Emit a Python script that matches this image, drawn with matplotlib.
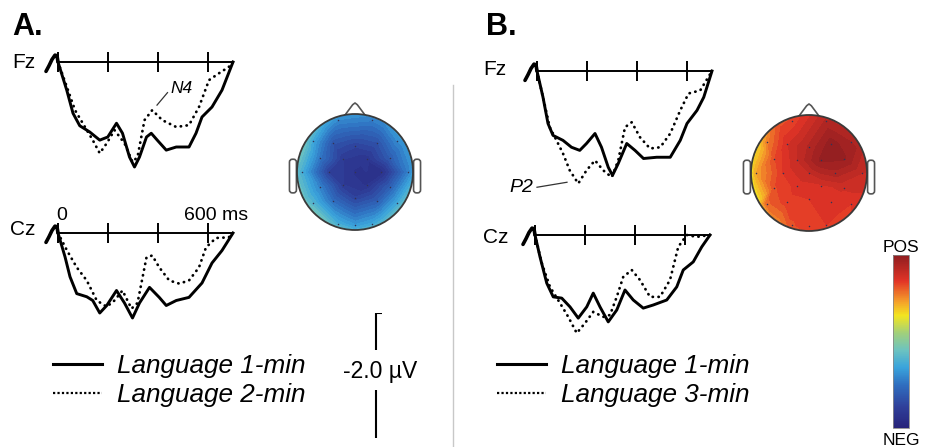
import numpy as np
import matplotlib
matplotlib.use("Agg")
import matplotlib.pyplot as plt
from matplotlib.colors import LinearSegmentedColormap
from matplotlib.patches import Circle, FancyBboxPatch
from matplotlib.lines import Line2D
from matplotlib.colorbar import ColorbarBase

plt.rcParams['font.family'] = ['Liberation Sans', 'DejaVu Sans']

W, H = 927, 447
PX_MS = 0.25      # pixels per ms
PX_UV = 62.5      # pixels per microvolt

EPOCH_END = 700
TICKS_MS = [0, 200, 400, 600]
# short pre-stimulus stub drawn at time zero
PRE_T = [-48, -36, -24, -12, -4, 0]
PRE_V = [0.15, 0.06, -0.04, -0.11, -0.1, 0]

# ERP waveforms (ms, uV; positive values hang below the baseline)
A_FZ_T1 = [0, 35, 60, 87, 127, 167, 199, 234, 258, 286, 306, 326, 354, 373, 397, 433, 473, 524, 552, 576, 616, 656, 700]
A_FZ_V1 = [0, 0.45, 0.82, 1.02, 1.12, 1.25, 1.20, 0.98, 1.14, 1.52, 1.68, 1.52, 1.20, 1.14, 1.25, 1.41, 1.36, 1.36, 1.14, 0.88, 0.72, 0.45, 0]
A_FZ_T2 = [0, 40, 68, 99, 139, 167, 195, 226, 266, 298, 318, 346, 377, 417, 473, 524, 564, 604, 644, 683, 700]
A_FZ_V2 = [0, 0.45, 0.77, 0.98, 1.25, 1.46, 1.30, 1.09, 1.30, 1.60, 1.52, 0.93, 0.77, 0.93, 1.04, 1.01, 0.72, 0.29, 0.18, 0.08, 0]

A_CZ_T1 = [0, 28, 48, 75, 115, 139, 167, 195, 234, 266, 298, 326, 366, 405, 433, 473, 524, 576, 616, 656, 700]
A_CZ_V1 = [0, 0.38, 0.70, 0.97, 1.02, 1.08, 1.28, 1.16, 0.92, 1.12, 1.36, 1.12, 0.87, 1.03, 1.16, 1.08, 1.03, 0.80, 0.48, 0.28, 0]
A_CZ_T2 = [0, 36, 75, 115, 155, 195, 226, 258, 294, 318, 354, 377, 405, 445, 485, 524, 564, 592, 632, 683, 700]
A_CZ_V2 = [0, 0.28, 0.55, 0.76, 1.08, 1.18, 1.08, 0.92, 1.21, 1.12, 0.39, 0.36, 0.55, 0.76, 0.81, 0.76, 0.55, 0.23, 0.08, 0.07, 0]

B_FZ_T1 = [0, 24, 44, 64, 104, 138, 171, 198, 232, 258, 285, 302, 325, 359, 392, 426, 479, 533, 573, 600, 640, 667, 700]
B_FZ_V1 = [0, 0.42, 0.84, 1.03, 1.11, 1.22, 1.27, 1.16, 1.00, 1.22, 1.54, 1.67, 1.48, 1.16, 1.27, 1.40, 1.38, 1.38, 1.11, 0.84, 0.63, 0.42, 0]
B_FZ_T2 = [0, 24, 51, 78, 104, 131, 165, 198, 232, 265, 299, 325, 352, 379, 412, 452, 493, 533, 573, 606, 653, 700]
B_FZ_V2 = [0, 0.42, 0.90, 1.11, 1.32, 1.59, 1.80, 1.59, 1.43, 1.59, 1.70, 1.43, 0.90, 0.82, 1.06, 1.24, 1.22, 1.00, 0.63, 0.36, 0.31, 0]

B_CZ_T1 = [0, 20, 47, 73, 107, 140, 173, 207, 233, 260, 293, 327, 360, 393, 433, 473, 527, 567, 593, 633, 667, 700]
B_CZ_V1 = [0, 0.35, 0.77, 0.99, 1.01, 1.15, 1.33, 1.15, 0.93, 1.15, 1.39, 1.20, 0.88, 1.04, 1.17, 1.12, 1.04, 0.83, 0.56, 0.43, 0.19, 0]
B_CZ_T2 = [0, 27, 60, 100, 133, 167, 200, 233, 273, 300, 327, 353, 387, 420, 460, 500, 540, 573, 607, 647, 700]
B_CZ_V2 = [0, 0.45, 0.83, 1.09, 1.31, 1.57, 1.41, 1.23, 1.31, 1.28, 0.99, 0.67, 0.56, 0.72, 0.99, 0.99, 0.72, 0.19, 0.0, 0.03, 0]

# topographic maps: electrode layout (unit head radius) and normalised values (0 = NEG, 1 = POS)
ELEC_X = [-0.3, 0.3, -0.73, -0.38, 0, 0.38, 0.73, -0.6, -0.2, 0.2, 0.6, -0.92, -0.45, 0, 0.45, 0.92,
          -0.6, -0.2, 0.2, 0.6, -0.73, -0.38, 0, 0.38, 0.73, -0.3, 0, 0.3]
ELEC_Y = [0.9, 0.9, 0.53, 0.5, 0.45, 0.5, 0.53, 0.25, 0.22, 0.22, 0.25, 0, 0, 0, 0, 0,
          -0.25, -0.22, -0.22, -0.25, -0.53, -0.5, -0.45, -0.5, -0.53, -0.9, -0.92, -0.9]
TOPO_A = [0.30, 0.28, 0.36, 0.18, 0.13, 0.17, 0.30, 0.26, 0.10, 0.08, 0.20, 0.38, 0.12, 0.07, 0.05, 0.28,
          0.28, 0.10, 0.07, 0.20, 0.40, 0.24, 0.13, 0.20, 0.36, 0.38, 0.33, 0.36]
TOPO_B = [0.83, 0.93, 0.76, 0.87, 0.93, 0.99, 0.95, 0.82, 0.90, 0.98, 0.98, 0.72, 0.85, 0.90, 0.94, 0.90,
          0.82, 0.86, 0.87, 0.88, 0.79, 0.84, 0.85, 0.86, 0.85, 0.82, 0.84, 0.85]
RIM_ANGLES = [0, 30, 60, 90, 120, 150, 180, 210, 240, 270, 300, 330]
RIM_A = [0.38, 0.36, 0.34, 0.34, 0.40, 0.50, 0.45, 0.48, 0.50, 0.44, 0.46, 0.48]
RIM_B = [0.90, 0.93, 0.90, 0.86, 0.80, 0.62, 0.55, 0.60, 0.74, 0.82, 0.84, 0.86]

CMAP = LinearSegmentedColormap.from_list("posneg", [
    (0.00, '#27237a'), (0.12, '#2f3f9a'), (0.25, '#2f6fc0'), (0.35, '#3aa4dc'),
    (0.45, '#6cc3c0'), (0.55, '#a2d07a'), (0.65, '#f3e51f'), (0.73, '#f5a12a'),
    (0.85, '#e23427'), (1.00, '#8e1d20')])

fig = plt.figure(figsize=(W / 100, H / 100), dpi=100, facecolor='white')


def px_axes(left, top, w, h):
    return fig.add_axes([left / W, 1 - (top + h) / H, w / W, h / H])


def px_text(x, y, s, **kw):
    fig.text(x / W, 1 - y / H, s, **kw)


def erp_panel(x0, y0, t1, v1, t2, v2, name, name_ms, name_uv):
    ax = px_axes(x0 - 60 * PX_MS, y0 - 0.35 * PX_UV, 790 * PX_MS, 2.45 * PX_UV)
    ax.set_xlim(-60, 730)
    ax.set_ylim(2.1, -0.35)
    ax.axis('off')
    ax.hlines(0, 0, EPOCH_END, color='black', lw=1.4)
    ax.vlines(TICKS_MS, -0.16, 0.16, color='black', lw=1.4)
    ax.plot(PRE_T, PRE_V, color='black', lw=2.6, solid_capstyle='round')
    ax.plot(t1, v1, color='black', lw=2.1, solid_joinstyle='round')
    ax.plot(t2, v2, color='black', lw=2.0, linestyle=(0, (0.1, 2.0)), dash_capstyle='round')
    ax.text(name_ms, name_uv, name, fontsize=15, ha='left', va='baseline', clip_on=False)
    return ax


def topo_panel(cx, cy, r, values, rim):
    ax = px_axes(cx - 1.35 * r, cy - 1.35 * r, 2.7 * r, 2.6 * r)
    ax.set_xlim(-1.35, 1.35)
    ax.set_ylim(-1.25, 1.35)
    ax.axis('off')
    ang = np.deg2rad(RIM_ANGLES)
    xs = np.concatenate([ELEC_X, 1.1 * np.cos(ang)])
    ys = np.concatenate([ELEC_Y, 1.1 * np.sin(ang)])
    vs = np.concatenate([values, rim])
    for side in (-1, 1):
        ear = FancyBboxPatch((side * 1.07 - 0.06, -0.36), 0.12, 0.58,
                             boxstyle='round,pad=0,rounding_size=0.05',
                             ec='#555555', fc='white', lw=1.2, zorder=1)
        ax.add_patch(ear)
    ax.plot([-0.17, -0.04, 0, 0.04, 0.17], [0.985, 1.16, 1.19, 1.16, 0.985],
            color='#555555', lw=1.2, zorder=1)
    cs = ax.tricontourf(xs, ys, vs, levels=np.linspace(0, 1, 41), cmap=CMAP,
                        vmin=0, vmax=1, zorder=2)
    cs.set_clip_path(Circle((0, 0), 1.0, transform=ax.transData))
    ax.add_patch(Circle((0, 0), 1.0, fill=False, ec='#3a3a3a', lw=1.3, zorder=3))
    ax.scatter(ELEC_X, ELEC_Y, s=1.2, c='#333355', zorder=4, linewidths=0)
    return ax


# panel letters
px_text(12, 35, 'A.', fontsize=22, fontweight='bold', va='baseline')
px_text(486, 35, 'B.', fontsize=22, fontweight='bold', va='baseline')

# ERPs, panel A
ax = erp_panel(58, 62, A_FZ_T1, A_FZ_V1, A_FZ_T2, A_FZ_V2, 'Fz', -184, 0.1)
ax.plot([396, 438], [0.69, 0.49], color='#333333', lw=0.9)
ax.text(448, 0.5, 'N4', fontsize=12.5, style='italic', ha='left', va='baseline')
ax = erp_panel(58, 233, A_CZ_T1, A_CZ_V1, A_CZ_T2, A_CZ_V2, 'Cz', -192, 0.03)
ax.text(16, -0.21, '0', fontsize=14, ha='center', va='baseline')
ax.text(504, -0.21, '600 ms', fontsize=14, ha='left', va='baseline')

# ERPs, panel B
ax = erp_panel(537, 71, B_FZ_T1, B_FZ_V1, B_FZ_T2, B_FZ_V2, 'Fz', -216, 0.06)
ax.plot([0, 120], [1.86, 1.78], color='#333333', lw=0.9)
ax.text(-16, 1.94, 'P2', fontsize=14, style='italic', ha='right', va='baseline', clip_on=False)
erp_panel(535, 235, B_CZ_T1, B_CZ_V1, B_CZ_T2, B_CZ_V2, 'Cz', -208, 0.13)

# topographic maps
topo_panel(355, 172, 58, TOPO_A, RIM_A)
topo_panel(809, 173, 58, TOPO_B, RIM_B)

# scale bar
sax = px_axes(356, 313, 40, 2.0 * PX_UV)
sax.set_xlim(-1, 1)
sax.set_ylim(2.0, 0)
sax.axis('off')
sax.vlines(0, 0, 0.59, color='black', lw=1.5)
sax.vlines(0, 1.23, 2.0, color='black', lw=1.5)
sax.hlines(0, 0, 0.3, color='black', lw=1.5)
sax.text(0.2, 0.93, '-2.0 \u00b5V', fontsize=16.5, ha='center', va='center', clip_on=False)

# legends
handles = [Line2D([], [], color='black', lw=2.2),
           Line2D([], [], color='black', lw=1.6, linestyle=(0, (1, 1)))]
leg_kw = dict(loc='upper left', frameon=False, prop={'size': 18.8, 'style': 'italic'},
              handlelength=1.88, handletextpad=0.58, labelspacing=0.2,
              borderpad=0, borderaxespad=0)
fig.legend(handles, ['Language 1-min', 'Language 2-min'],
           bbox_to_anchor=(53 / W, 1 - 354 / H), **leg_kw)
fig.legend(handles, ['Language 1-min', 'Language 3-min'],
           bbox_to_anchor=(497 / W, 1 - 354 / H), **leg_kw)

# colour bar
cax = px_axes(893, 255, 16, 173)
cb = ColorbarBase(cax, cmap=CMAP, orientation='vertical')
cb.set_ticks([])
cb.outline.set_edgecolor('#888888')
cb.outline.set_linewidth(0.6)
px_text(901, 252, 'POS', fontsize=12.5, ha='center', va='baseline')
px_text(901, 445, 'NEG', fontsize=12.5, ha='center', va='baseline')

# divider between panels
fig.add_artist(Line2D([453 / W, 453 / W], [1 - 85 / H, 0], color='#c8c8c8', lw=1))

fig.savefig('out.png', dpi=100, facecolor='white')
